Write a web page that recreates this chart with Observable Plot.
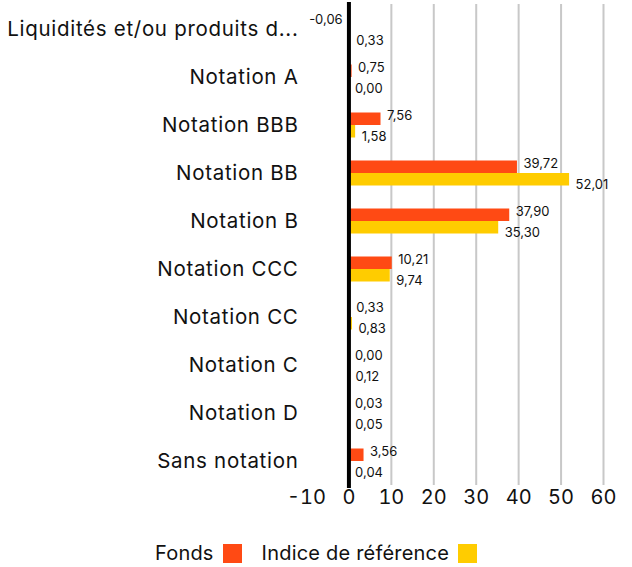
<!DOCTYPE html>
<html><head><meta charset="utf-8">
<script src="https://cdn.jsdelivr.net/npm/d3@7"></script>
<script src="https://cdn.jsdelivr.net/npm/@observablehq/plot@0.6"></script>
<style>
body{margin:0;background:#fff;font-family:Inter, "Open Sans", sans-serif;color:#111;}
#legend{display:flex;justify-content:center;align-items:center;margin-top:28px;font-size:20px;line-height:20px;letter-spacing:0.2px;}
#legend .item{display:flex;align-items:center;margin:0 10px;}
#legend .sw{width:19px;height:19px;margin-left:9px;display:inline-block;}
g[aria-label="y-axis tick label"] text{letter-spacing:0.7px;}
</style></head><body>
<div id="chart"></div>
<div id="legend"></div>
<script>
const categories = ["Liquidités et/ou produits d...","Notation A","Notation BBB","Notation BB","Notation B","Notation CCC","Notation CC","Notation C","Notation D","Sans notation"];
const fonds = [-0.06,0.75,7.56,39.72,37.90,10.21,0.33,0.00,0.03,3.56];
const indice = [0.33,0.00,1.58,52.01,35.30,9.74,0.83,0.12,0.05,0.04];
const seriesNames = ["Fonds","Indice de référence"];
const seriesColors = ["#FF4A14","#FFCC00"];
const xTicks = [-10,0,10,20,30,40,50,60];
const gridTicks = [10,20,30,40,50,60];

const rows = [];
categories.forEach((c,i)=>{
  rows.push({cat:c, value:fonds[i], series:seriesNames[0]});
  rows.push({cat:c, value:indice[i], series:seriesNames[1]});
});
const fmt = v => v.toFixed(2).replace(".", ",");
const A = rows.filter(d=>d.series===seriesNames[0]);
const B = rows.filter(d=>d.series===seriesNames[1]);

const chart = Plot.plot({
  width: 632,
  height: 515,
  marginLeft: 306,
  marginRight: 29,
  marginTop: 4,
  marginBottom: 30,
  style: {fontFamily: "Inter, 'Open Sans', sans-serif", color:"#111", background:"#fff"},
  x: {domain:[-10,60], ticks: xTicks, tickSize:0, tickPadding:4, label:null},
  y: {domain: categories, padding:0, tickSize:0, tickPadding:8, label:null},
  color: {domain: seriesNames, range: seriesColors},
  marks: [
    Plot.ruleX(gridTicks, {stroke:"#c8c8c8", strokeWidth:2}),
    Plot.barX(A, {x:"value", y:"cat", fill:"series", insetTop:11.5, insetBottom:24}),
    Plot.barX(B, {x:"value", y:"cat", fill:"series", insetTop:24, insetBottom:11.5}),
    Plot.ruleX([0], {stroke:"#000", strokeWidth:4, insetTop:-2, insetBottom:-3}),
    Plot.text(A.filter(d=>d.value>=0), {x:"value", y:"cat", text:d=>fmt(d.value), dx:6, dy:-9.5, textAnchor:"start", fontSize:13, fill:"#111"}),
    Plot.text(A.filter(d=>d.value<0), {x:"value", y:"cat", text:d=>fmt(d.value), dx:-6, dy:-9.5, textAnchor:"end", fontSize:13, fill:"#111"}),
    Plot.text(B.filter(d=>d.value>=0), {x:"value", y:"cat", text:d=>fmt(d.value), dx:6, dy:11.5, textAnchor:"start", fontSize:13, fill:"#111"}),
    Plot.text(B.filter(d=>d.value<0), {x:"value", y:"cat", text:d=>fmt(d.value), dx:-6, dy:11.5, textAnchor:"end", fontSize:13, fill:"#111"}),
    Plot.axisX({ticks:xTicks, tickSize:0, tickPadding:4, fontSize:20, label:null, tickFormat:d=>String(d)}),
    Plot.axisY({tickSize:0, tickPadding:8, fontSize:20.5, label:null})
  ]
});
document.getElementById("chart").appendChild(chart);

const leg = document.getElementById("legend");
seriesNames.forEach((n,i)=>{
  const it = document.createElement("span"); it.className="item";
  const t = document.createElement("span"); t.textContent = n;
  const s = document.createElement("span"); s.className="sw"; s.style.background = seriesColors[i];
  it.appendChild(t); it.appendChild(s); leg.appendChild(it);
});
</script>
</body></html>
